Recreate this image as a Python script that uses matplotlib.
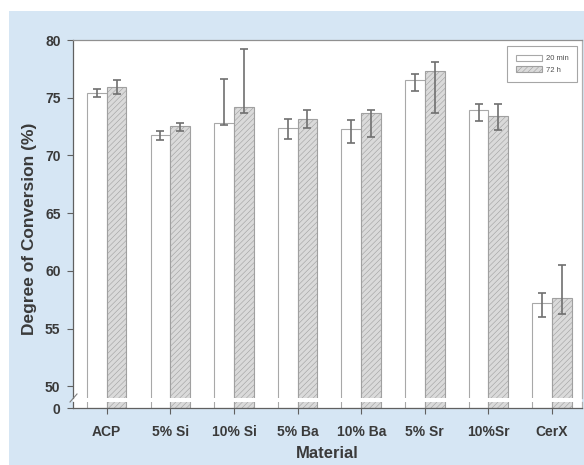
import numpy as np
import matplotlib
matplotlib.use("Agg")
import matplotlib.pyplot as plt
from matplotlib.patches import Rectangle

# ---------------- data ----------------
materials = ["ACP", "5% Si", "10% Si", "5% Ba", "10% Ba", "5% Sr", "10%Sr", "CerX"]
dc_20min = [75.45, 71.8, 72.85, 72.35, 72.3, 76.55, 73.95, 57.25]
err_20min_lo = [0.4, 0.45, 0.2, 0.95, 1.2, 1.0, 0.95, 1.2]
err_20min_hi = [0.35, 0.35, 3.75, 0.85, 0.8, 0.5, 0.5, 0.8]
dc_72h = [75.95, 72.55, 74.2, 73.15, 73.7, 77.35, 73.45, 57.7]
err_72h_lo = [0.65, 0.45, 0.55, 0.8, 2.1, 3.7, 1.25, 1.45]
err_72h_hi = [0.6, 0.3, 5.0, 0.75, 0.25, 0.75, 1.0, 2.8]
yticks_top = [50, 55, 60, 65, 70, 75, 80]

BG = "#d6e6f4"
TXT = "#3a3a3a"
plt.rcParams["hatch.linewidth"] = 0.4
plt.rcParams["font.family"] = ["Liberation Sans", "DejaVu Sans"]

W, H = 584, 465
fig = plt.figure(figsize=(W / 100, H / 100), dpi=100)
fig.patch.set_facecolor("white")

def fx(px): return px / W
def fy(py): return 1 - py / H

fig.patches.append(Rectangle((fx(9), 0), 1, fy(11), transform=fig.transFigure,
                             facecolor=BG, edgecolor="none", zorder=-10))
# white plot area behind the axis break
fig.patches.append(Rectangle((fx(73), fy(408)), fx(582) - fx(73), fy(40) - fy(408),
                             transform=fig.transFigure, facecolor="white",
                             edgecolor="none", zorder=-9))

ax = fig.add_axes([fx(73), fy(398), fx(582) - fx(73), fy(40) - fy(398)])
axb = fig.add_axes([fx(73), fy(408), fx(582) - fx(73), fy(402) - fy(408)])

x = np.arange(len(materials))
bw = 0.31
for a in (ax, axb):
    a.bar(x - bw / 2, dc_20min, bw, color="white", edgecolor="#a8a8a8", linewidth=0.8,
          label="20 min", zorder=2)
    a.bar(x + bw / 2, dc_72h, bw, color="#dadada", edgecolor="#a0a0a0", linewidth=0.8,
          hatch="//////", label="72 h", zorder=2)
    a.set_xlim(-0.53, 7.47)

ekw = dict(fmt="none", ecolor="#707070", elinewidth=1.2, capsize=3, capthick=1.2, zorder=3)
ax.errorbar(x - bw / 2, dc_20min, yerr=[err_20min_lo, err_20min_hi], **ekw)
ax.errorbar(x + bw / 2, dc_72h, yerr=[err_72h_lo, err_72h_hi], **ekw)

ax.set_ylim(49, 80)
ax.set_yticks(yticks_top)
ax.set_xticks([])
axb.set_ylim(0, 1)
axb.set_yticks([0])
axb.set_xticks(x)
axb.set_xticklabels(materials)

for a in (ax, axb):
    a.set_facecolor("white")
    for s in a.spines.values():
        s.set_color("#606060")
        s.set_linewidth(0.9)
    a.tick_params(axis="both", colors="#606060", labelcolor=TXT, length=4, width=0.8,
                  labelsize=10)
    for lab in a.get_yticklabels() + a.get_xticklabels():
        lab.set_fontweight("bold")
ax.spines["bottom"].set_visible(False)
axb.spines["top"].set_visible(False)
ax.spines["top"].set_color("#909090")
ax.spines["right"].set_color("#b0b0b0")
axb.spines["right"].set_color("#b0b0b0")
axb.tick_params(axis="x", pad=8)
axb.tick_params(axis="y", pad=5)
ax.tick_params(axis="y", pad=5)

# break mark on the left spine
fig.add_artist(plt.Line2D([fx(70), fx(77)], [fy(402), fy(394)], color="#808080", lw=0.8))

ax.set_ylabel("Degree of Conversion (%)", fontsize=12.5, fontweight="bold", color=TXT)
ax.yaxis.set_label_coords(-0.07, 0.472)
axb.set_xlabel("Material", fontsize=12, fontweight="bold", color=TXT, labelpad=5)

leg = ax.legend(loc="upper right", bbox_to_anchor=(0.997, 0.993), fontsize=5.5,
                frameon=True, fancybox=False, handlelength=3.4, handleheight=0.8,
                borderpad=1.1, labelspacing=0.5, handletextpad=0.5)
leg.get_frame().set_edgecolor("#909090")
leg.get_frame().set_linewidth(0.8)
for t in leg.get_texts():
    t.set_color("#505050")

fig.savefig("out.png", dpi=100)
